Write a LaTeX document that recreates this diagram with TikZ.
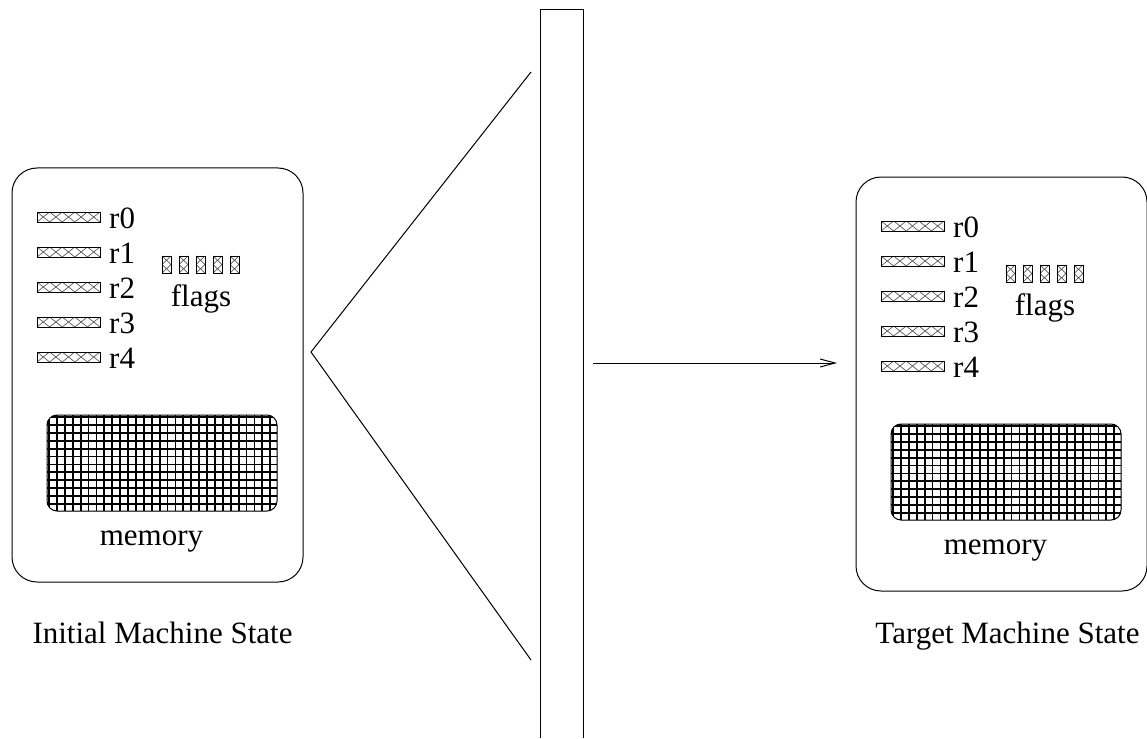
\documentclass[tikz,border=0pt]{standalone}
\usepackage{fontspec}
\setmainfont{Liberation Serif}
\newfontfamily\tms{Liberation Serif}
\usetikzlibrary{arrows.meta}
\tikzset{
  line/.style={line width=1pt},
  txt/.style={inner sep=0pt, font=\tms\fontsize{31}{37}\selectfont},
  hatch/.style={black!65, line width=0.7pt},
  regbox/.pic={
    \begin{scope}
      \clip (0,0) rectangle (63,10);
      \foreach \k in {0,...,4}
        \draw[hatch] (\k*12.6,0) -- ({(\k+1)*12.6},10) (\k*12.6,10) -- ({(\k+1)*12.6},0);
    \end{scope}
    \draw[line width=0.9pt] (0,0) rectangle (63,10);
  },
  flagbox/.pic={
    \draw[hatch] (0,0) -- (9,8.5) (9,0) -- (0,8.5) (0,8.5) -- (9,17) (9,8.5) -- (0,17);
    \draw[line width=0.9pt] (0,0) rectangle (9,17);
  },
  machine/.pic={
    \draw[line, rounded corners=25] (0,0) rectangle (291,414);
    \foreach \k in {0,...,4} {
      \pic at (25,{44+35*\k}) {regbox};
      \node[txt, anchor=base west] (-r\k) at (97,{60+35*\k}) {r\k};
    }
    \foreach \k in {0,...,4}
      \pic at ({150+17*\k},88) {flagbox};
    \node[txt, anchor=base] (-flags) at (189,138) {flags};
    \begin{scope}
      \clip[rounded corners=10] (35,247) rectangle (265,343);
      \foreach \i in {0,...,29}
        \draw[line width=1.8pt] ({37+\i*7.9},247) -- ({37+\i*7.9},343);
      \foreach \j in {0,...,12}
        \draw[line width=1.8pt] (35,{249+\j*7.9}) -- (265,{249+\j*7.9});
    \end{scope}
    \draw[line, rounded corners=10] (35,247) rectangle (265,343);
    \node[txt, anchor=base] (-mem) at (139.5,377) {memory};
  }
}
\begin{document}
\begin{tikzpicture}[x=1pt,y=-1pt]
  \useasboundingbox (0,0) rectangle (1147,738);
  \pic (init) at (12,168) {machine};
  \pic (target) at (856,177) {machine};
  \node[txt, anchor=base] (inittitle) at (162.5,643) {Initial Machine State};
  \node[txt, anchor=base] (targettitle) at (1007.5,643) {Target Machine State};
  % triangle
  \coordinate (apex) at (311,352);
  \coordinate (tup) at (531,72);
  \coordinate (tdown) at (531,660);
  \draw[line] (tup) -- (apex) -- (tdown);
  % vertical bar
  \coordinate (barbl) at (540,738);
  \coordinate (bartl) at (540,10);
  \coordinate (bartr) at (583,10);
  \coordinate (barbr) at (583,738);
  \draw[line] (barbl) -- (bartl) -- (bartr) -- (barbr);
  % arrow
  \coordinate (astart) at (593,363);
  \coordinate (aend) at (837,363);
  \draw[line, -{Straight Barb[length=15pt,width=8pt]}] (astart) -- (aend);
\end{tikzpicture}
\end{document}
